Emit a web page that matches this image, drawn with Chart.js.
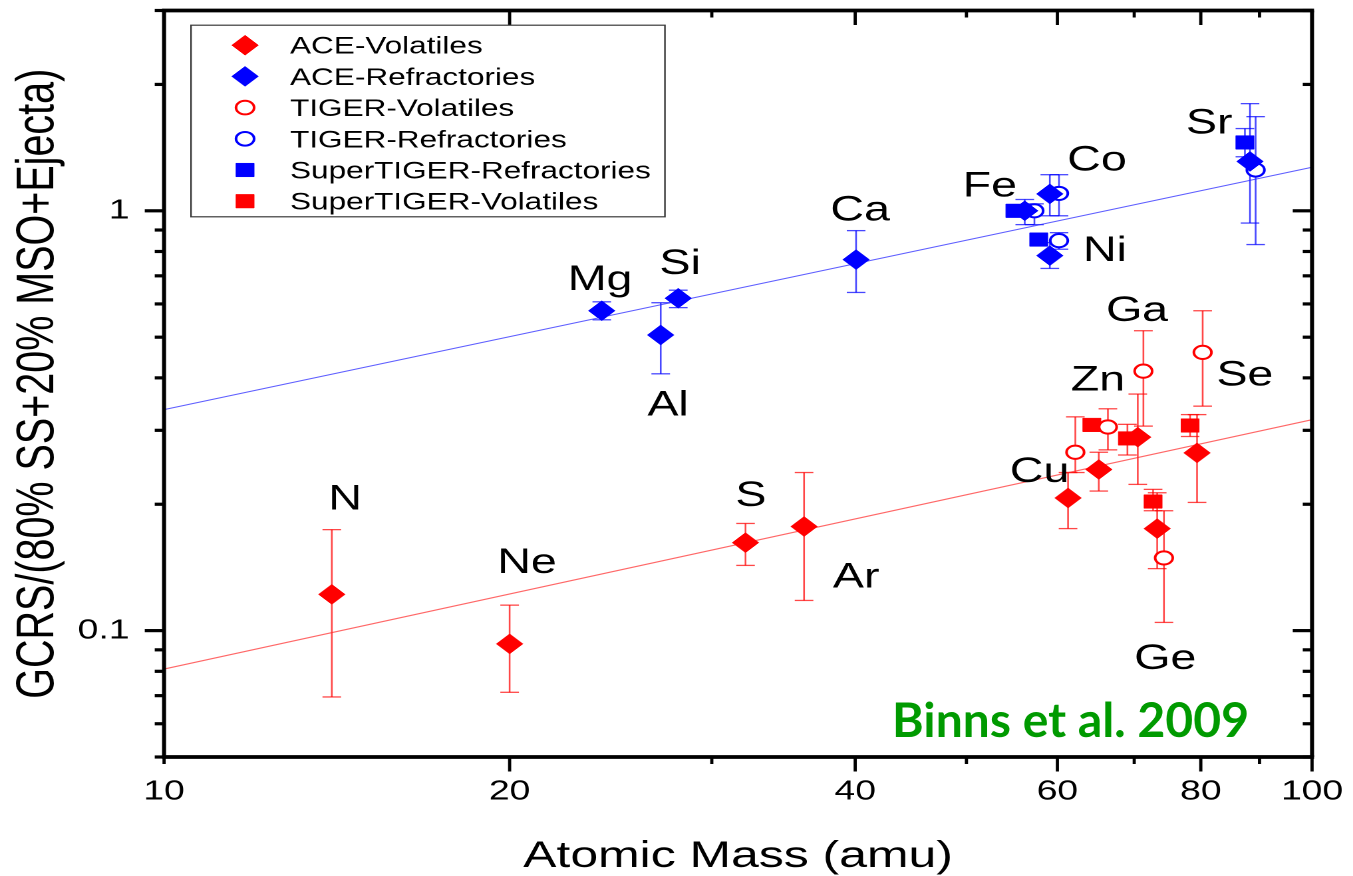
<!DOCTYPE html>
<html>
<head>
<meta charset="utf-8">
<script src="https://cdn.jsdelivr.net/npm/chart.js@4.4.1/dist/chart.umd.min.js"></script>
<style>
  html, body { margin: 0; padding: 0; background: #fff; overflow: hidden; }
  /* the plot is drawn narrow and widened horizontally, like the original figure */
  #wrap { width: 1017px; height: 876px; transform: scaleX(1.3304); transform-origin: 0 0; }
  canvas { display: block; }
</style>
</head>
<body>
<div id="wrap"><canvas id="c" width="1017" height="876"></canvas></div>
<script>
// ---- data: atomic mass (amu), GCRS / (80% SS + 20% MSO + ejecta), error bounds ----
const aceVolMass  = [14.0, 20.0, 32.1, 36.1, 61.3, 65.2, 70.5, 73.3, 79.4];      // N Ne S Ar Cu Zn Ga Ge Se
const aceVolRatio = [0.122, 0.093, 0.162, 0.177, 0.207, 0.242, 0.289, 0.175, 0.265];
const aceVolLow   = [0.0695, 0.0713, 0.143, 0.118, 0.175, 0.215, 0.223, 0.1405, 0.202];
const aceVolHigh  = [0.174, 0.115, 0.180, 0.238, 0.238, 0.266, 0.366, 0.213, 0.327];

const aceRefMass  = [24.06, 27.08, 28.05, 40.07, 56.2, 59.1, 59.1, 88.3];        // Mg Al Si Ca Fe Co Ni Sr
const aceRefRatio = [0.578, 0.506, 0.619, 0.765, 1.0, 1.097, 0.782, 1.311];
const aceRefLow   = [0.550, 0.409, 0.588, 0.639, 0.927, 0.973, 0.729, 0.935];
const aceRefHigh  = [0.607, 0.604, 0.647, 0.897, 1.064, 1.219, 0.840, 1.80];

const tigerVolMass  = [62.2, 66.4, 71.3, 74.3, 80.3];                             // Cu Zn Ga Ge Se
const tigerVolRatio = [0.266, 0.3055, 0.415, 0.149, 0.46];
const tigerVolLow   = [0.238, 0.2695, 0.307, 0.1046, 0.3425];
const tigerVolHigh  = [0.323, 0.3376, 0.518, 0.193, 0.578];

const tigerRefMass  = [57.3, 60.2, 60.2, 89.3];                                   // Fe Co Ni Sr
const tigerRefRatio = [1.0, 1.10, 0.849, 1.251];
const tigerRefLow   = [0.927, 0.973, 0.810, 0.831];
const tigerRefHigh  = [1.039, 1.219, 0.887, 1.676];

const superRefMass  = [55.1, 57.8, 87.4];                                         // Fe Ni Sr
const superRefRatio = [1.0, 0.854, 1.455];
const superRefLow   = [null, null, 1.345];
const superRefHigh  = [null, null, 1.57];

const superVolMass  = [64.3, 69.05, 72.7, 78.3];                                  // Zn Ga Ge Se
const superVolRatio = [0.309, 0.287, 0.203, 0.308];
const superVolLow   = [null, 0.262, 0.193, 0.290];
const superVolHigh  = [null, 0.310, 0.217, 0.327];

// power-law trend lines through the refractory and volatile groups
const refFitMass  = [10, 100];
const refFitRatio = [0.336, 1.27];
const volFitMass  = [10, 100];
const volFitRatio = [0.081, 0.318];

// axis ticks
const massTicks       = [10, 20, 30, 40, 50, 60, 70, 80, 90, 100];
const massTickLabels  = [10, 20, 40, 60, 80, 100];
const ratioTicks      = [0.05, 0.06, 0.07, 0.08, 0.09, 0.1, 0.2, 0.3, 0.4, 0.5, 0.6, 0.7, 0.8, 0.9, 1, 2, 3];
const ratioTickLabels = [0.1, 1];

// element names, placed in data coordinates (mass, ratio)
const elementTags = [
  ['N', 14.38, 0.208], ['Ne', 20.71, 0.147], ['Mg', 23.98, 0.694], ['Si', 28.15, 0.757],
  ['Al', 27.48, 0.349], ['Ca', 40.4, 1.016], ['Fe', 52.4, 1.159], ['Co', 64.96, 1.335],
  ['Ni', 66.0, 0.813], ['Sr', 81.35, 1.635], ['Ga', 70.4, 0.586], ['Zn', 65.1, 0.40],
  ['Se', 87.4, 0.411], ['Cu', 57.9, 0.242], ['S', 32.45, 0.2124], ['Ar', 40.07, 0.1357],
  ['Ge', 74.5, 0.0868]
];

const STRETCH = 1353 / 1017;
const RED = '#ff0000', BLUE = '#0000ff';
const FONT = '"Liberation Sans", Arial, Helvetica, sans-serif';

const pts = (m, r) => m.map((v, i) => ({ x: v, y: r[i] }));

function markerSet(label, mass, ratio, lo, hi, color, style) {
  const hollow = style === 'circle';
  return {
    label, data: pts(mass, ratio), errLow: lo, errHigh: hi, inLegend: true,
    errColor: color === RED ? 'rgba(255,0,0,0.72)' : 'rgba(0,0,255,0.72)',
    pointStyle: style,
    pointRadius: hollow ? 6.6 : (style === 'rect' ? 9.6 : 10),
    pointBackgroundColor: hollow ? '#ffffff' : color,
    pointBorderColor: color,
    pointBorderWidth: hollow ? 2 : 0.5,
    showLine: false
  };
}

const datasets = [
  markerSet('ACE-Volatiles', aceVolMass, aceVolRatio, aceVolLow, aceVolHigh, RED, 'rectRot'),
  markerSet('ACE-Refractories', aceRefMass, aceRefRatio, aceRefLow, aceRefHigh, BLUE, 'rectRot'),
  markerSet('TIGER-Volatiles', tigerVolMass, tigerVolRatio, tigerVolLow, tigerVolHigh, RED, 'circle'),
  markerSet('TIGER-Refractories', tigerRefMass, tigerRefRatio, tigerRefLow, tigerRefHigh, BLUE, 'circle'),
  markerSet('SuperTIGER-Refractories', superRefMass, superRefRatio, superRefLow, superRefHigh, BLUE, 'rect'),
  markerSet('SuperTIGER-Volatiles', superVolMass, superVolRatio, superVolLow, superVolHigh, RED, 'rect'),
  { label: 'refractory fit', data: pts(refFitMass, refFitRatio), showLine: true, pointRadius: 0,
    borderColor: 'rgba(40,40,255,0.75)', borderWidth: 1.1, fill: false },
  { label: 'volatile fit', data: pts(volFitMass, volFitRatio), showLine: true, pointRadius: 0,
    borderColor: 'rgba(255,40,40,0.7)', borderWidth: 1.1, fill: false }
];

function seg(ctx, x0, y0, x1, y1) { ctx.beginPath(); ctx.moveTo(x0, y0); ctx.lineTo(x1, y1); ctx.stroke(); }

// vertical error bars with caps, drawn under the markers
const errorBars = {
  id: 'errorBars',
  beforeDatasetsDraw(chart) {
    const { ctx, scales: { x, y } } = chart;
    const cap = 7;
    chart.data.datasets.forEach(ds => {
      if (!ds.errLow) return;
      ctx.save();
      ctx.strokeStyle = ds.errColor;
      ctx.lineWidth = 1.3;
      ds.data.forEach((p, j) => {
        const lo = ds.errLow[j], hi = ds.errHigh[j];
        if (lo == null || hi == null) return;
        const px = x.getPixelForValue(p.x);
        const y0 = y.getPixelForValue(lo), y1 = y.getPixelForValue(hi);
        seg(ctx, px, y0, px, y1);
        seg(ctx, px - cap, y0, px + cap, y0);
        seg(ctx, px - cap, y1, px + cap, y1);
      });
      ctx.restore();
    });
  }
};

// closed frame with outward ticks on bottom/left and inward ticks on top/right
const frame = {
  id: 'frame',
  afterDatasetsDraw(chart) {
    const { ctx, chartArea: { left, right, top, bottom }, scales: { x, y } } = chart;
    const MAJOR = 14.5, MINOR = 7;
    ctx.save();
    ctx.strokeStyle = '#000';
    ctx.lineWidth = 2.4;
    massTicks.forEach(v => {
      const px = x.getPixelForValue(v);
      const len = (massTickLabels.includes(v) && v !== 10) ? MAJOR : MINOR;
      seg(ctx, px, bottom, px, bottom + len);
      seg(ctx, px, top, px, top + len);
    });
    ctx.lineWidth = 3.2;
    ratioTicks.forEach(v => {
      const py = y.getPixelForValue(v);
      const len = ratioTickLabels.includes(v) ? MAJOR : MINOR;
      seg(ctx, left, py, left - len, py);
      seg(ctx, right, py, right - len, py);
    });
    ctx.lineWidth = 3.8;
    seg(ctx, left - 1.5, top, right + 1.5, top);
    seg(ctx, left - 1.5, bottom, right + 1.5, bottom);
    ctx.lineWidth = 3;
    seg(ctx, left, top, left, bottom);
    seg(ctx, right, top, right, bottom);
    ctx.restore();
  }
};

// element symbols next to their points
const tags = {
  id: 'tags',
  afterDatasetsDraw(chart) {
    const { ctx, scales: { x, y } } = chart;
    const size = 35;
    ctx.save();
    ctx.font = `${size}px ${FONT}`;
    ctx.fillStyle = '#000';
    ctx.textAlign = 'center';
    ctx.textBaseline = 'alphabetic';
    elementTags.forEach(([t, m, r]) => {
      ctx.fillText(t, x.getPixelForValue(m), y.getPixelForValue(r) + size * 0.358);
    });
    ctx.restore();
  }
};

// boxed legend in the upper-left corner of the plot
const boxLegend = {
  id: 'boxLegend',
  afterDraw(chart) {
    const { ctx, chartArea } = chart;
    const x0 = chartArea.left + 20.3, y0 = chartArea.top + 14.7, w = 356.2, h = 191.6;
    ctx.save();
    ctx.fillStyle = '#fff';
    ctx.fillRect(x0, y0, w, h);
    ctx.strokeStyle = '#3a3a3a';
    ctx.lineWidth = 1.2;
    ctx.strokeRect(x0, y0, w, h);
    const size = 23.7;
    ctx.font = `${size}px ${FONT}`;
    ctx.textBaseline = 'alphabetic';
    ctx.textAlign = 'left';
    chart.data.datasets.filter(d => d.inLegend).forEach((d, i) => {
      const cy = y0 + 20 + i * 31.2;
      ctx.fillStyle = d.pointBackgroundColor;
      ctx.strokeStyle = d.pointBorderColor;
      ctx.lineWidth = d.pointBorderWidth;
      Chart.helpers.drawPoint(ctx, {
        pointStyle: d.pointStyle, rotation: 0,
        radius: d.pointStyle === 'circle' ? 6.8 : d.pointRadius,
        borderWidth: d.pointBorderWidth
      }, x0 + 40.6, cy);
      ctx.fillStyle = '#000';
      ctx.fillText(d.label, x0 + 74.4, cy + size * 0.358);
    });
    ctx.restore();
  }
};

// citation in the lower-right corner, kept at its natural width
const citation = {
  id: 'citation',
  afterDraw(chart) {
    const { ctx, chartArea } = chart;
    const text = 'Binns et al. 2009';
    ctx.save();
    ctx.scale(1 / STRETCH, 1);
    ctx.font = `bold 47.5px Lato, "Open Sans", sans-serif`;
    const tw = ctx.measureText(text).width;
    const target = 357;
    const xr = chartArea.right * STRETCH - 63;
    const base = chartArea.bottom - 20;
    ctx.translate(xr - target, base);
    ctx.scale(target / tw, 1);
    ctx.fillStyle = '#009a00';
    ctx.textBaseline = 'alphabetic';
    ctx.fillText(text, 0, 0);
    ctx.restore();
  }
};

// the plot area is fixed by the layout padding and axis sizes; drop label overhang padding
const noOverhang = s => { s.paddingTop = 0; s.paddingBottom = 0; s.paddingLeft = 0; s.paddingRight = 0; };

new Chart(document.getElementById('c'), {
  type: 'scatter',
  data: { datasets },
  plugins: [errorBars, frame, tags, boxLegend, citation],
  options: {
    responsive: false,
    devicePixelRatio: 2,
    animation: false,
    events: [],
    layout: { padding: { left: 0, top: 7, right: 30.8, bottom: 0 } },
    plugins: { legend: { display: false }, tooltip: { enabled: false } },
    scales: {
      x: {
        type: 'logarithmic', min: 10, max: 100, position: 'bottom',
        grid: { display: false, drawTicks: false },
        border: { display: false },
        afterBuildTicks: s => { s.ticks = massTicks.map(v => ({ value: v })); },
        afterFit: s => { s.height = 119; noOverhang(s); },
        ticks: {
          autoSkip: false, maxRotation: 0, padding: 18, color: '#000',
          font: { family: FONT, size: 28 },
          callback: v => massTickLabels.includes(v) ? String(v) : ''
        },
        title: {
          display: true, text: 'Atomic Mass (amu)', color: '#000',
          font: { family: FONT, size: 37.5, lineHeight: 1 }, padding: { top: 0, bottom: 0.5 }
        }
      },
      y: {
        type: 'logarithmic', min: 0.05, max: 3, position: 'left',
        grid: { display: false, drawTicks: false },
        border: { display: false },
        afterBuildTicks: s => { s.ticks = ratioTicks.map(v => ({ value: v })); },
        afterFit: s => { s.width = 123.3; noOverhang(s); },
        ticks: {
          autoSkip: false, padding: 26, color: '#000',
          font: { family: FONT, size: 28, lineHeight: 0.1 },
          callback: v => ratioTickLabels.includes(v) ? String(v) : ''
        },
        title: {
          display: true, text: 'GCRS/(80% SS+20% MSO+Ejecta)', color: '#000',
          font: { family: FONT, size: 39.5, lineHeight: 1.2 }, padding: { top: 5.5, bottom: 0 }
        }
      }
    }
  }
});
</script>
</body>
</html>
